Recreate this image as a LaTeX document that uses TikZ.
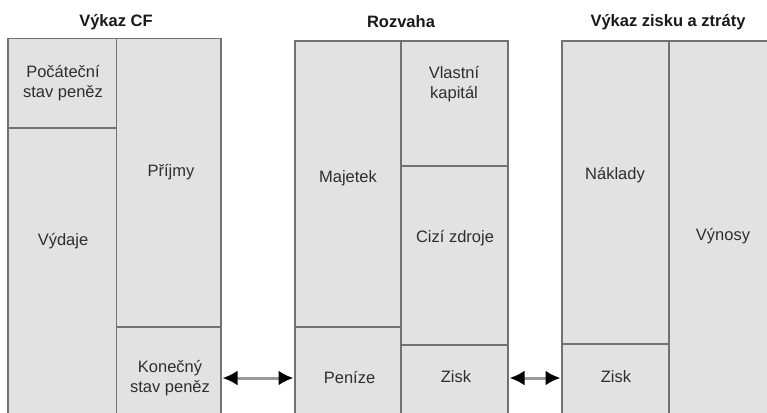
\documentclass[tikz,border=0pt]{standalone}
\usepackage{fontspec}
\setmainfont{Liberation Sans}
\usetikzlibrary{arrows.meta}
\definecolor{cellfill}{HTML}{E2E2E2}
\definecolor{cellline}{HTML}{727272}
\definecolor{lbltext}{HTML}{2E2E2E}
\definecolor{shaft}{HTML}{999999}
\tikzset{
  cell/.style={draw=cellline, fill=cellfill, line width=1.6pt, inner sep=0pt, outer sep=0pt, anchor=north west},
  lbl/.style={font=\fontsize{16.5}{20}\selectfont, text=lbltext, align=center, inner sep=0pt},
  ttl/.style={font=\bfseries\fontsize{16.5}{20}\selectfont, text=black!90, inner sep=0pt},
  arr/.style={{Latex[length=15pt,width=15pt,black]}-{Latex[length=15pt,width=15pt,black]}, draw=shaft, line width=3pt, shorten <=1.5pt, shorten >=1.5pt}
}
\begin{document}
\begin{tikzpicture}[x=1pt,y=-1pt]
\useasboundingbox (0,0) rectangle (767,412);
\clip (0,0) rectangle (767,412);
% Vykaz CF
\node[cell, minimum width=108.5pt, minimum height=89.5pt] (pocatecni) at (8,38.5) {};
\node[cell, minimum width=108.5pt, minimum height=297pt] (vydaje) at (8,128) {};
\node[cell, minimum width=104.5pt, minimum height=288.5pt] (prijmy) at (116.5,38.5) {};
\node[cell, minimum width=104.5pt, minimum height=98pt] (konecny) at (116.5,327) {};
% Rozvaha
\node[cell, minimum width=106pt, minimum height=286pt] (majetek) at (295,41) {};
\node[cell, minimum width=106pt, minimum height=98pt] (penize) at (295,327) {};
\node[cell, minimum width=107pt, minimum height=125pt] (vlastni) at (401,41) {};
\node[cell, minimum width=107pt, minimum height=179pt] (cizi) at (401,166) {};
\node[cell, minimum width=107pt, minimum height=80pt] (ziskr) at (401,345) {};
% Vykaz zisku a ztraty
\node[cell, minimum width=107pt, minimum height=303pt] (naklady) at (562,41) {};
\node[cell, minimum width=107pt, minimum height=81pt] (ziskv) at (562,344) {};
\node[cell, minimum width=121pt, minimum height=384pt] (vynosy) at (669,41) {};
% titles
\node[ttl] (t1) at (116,22) {Výkaz CF};
\node[ttl] (t2) at (401,22) {Rozvaha};
\node[ttl] (t3) at (668,22) {Výkaz zisku a ztráty};
% labels
\node[lbl] (lpocatecni) at (63,83) {Počáteční\\stav peněz};
\node[lbl] (lprijmy) at (171,172) {Příjmy};
\node[lbl] (lvydaje) at (63,241) {Výdaje};
\node[lbl] (lkonecny) at (170,378) {Konečný\\stav peněz};
\node[lbl] (lmajetek) at (348,178) {Majetek};
\node[lbl] (lvlastni) at (454,84) {Vlastní\\kapitál};
\node[lbl] (lcizi) at (455,238) {Cizí zdroje};
\node[lbl] (lpenize) at (349.5,377) {Peníze};
\node[lbl] (lziskr) at (456,377) {Zisk};
\node[lbl] (lnaklady) at (615,175) {Náklady};
\node[lbl] (lziskv) at (616,377) {Zisk};
\node[lbl] (lvynosy) at (723,236) {Výnosy};
% arrows
\coordinate (ay) at (0,378);
\draw[arr] (konecny.east |- ay) -- (penize.west |- ay);
\draw[arr] (ziskr.east |- ay) -- (ziskv.west |- ay);
\end{tikzpicture}
\end{document}
